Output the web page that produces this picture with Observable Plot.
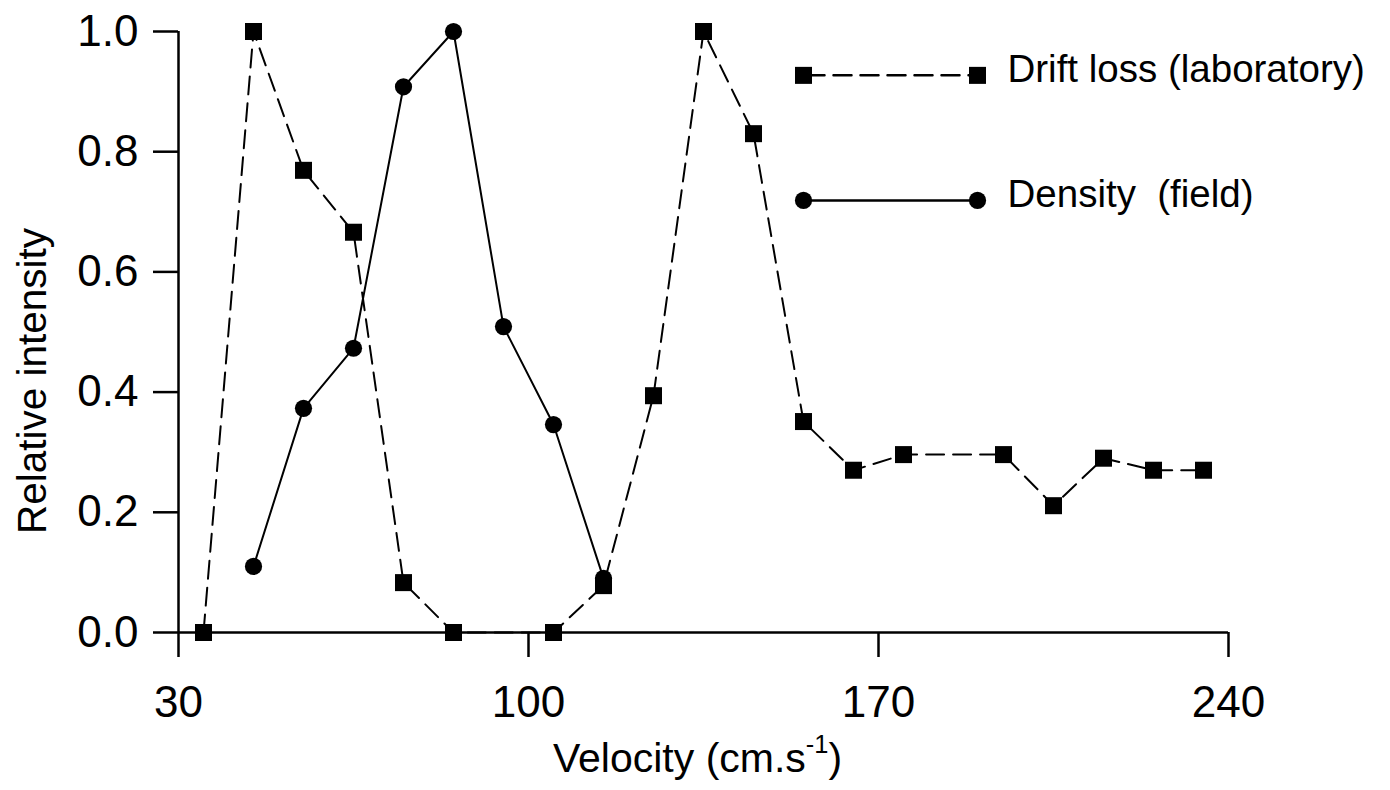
<!DOCTYPE html>
<html>
<head>
<meta charset="utf-8">
<script src="https://cdn.jsdelivr.net/npm/d3@7"></script>
<script src="https://cdn.jsdelivr.net/npm/@observablehq/plot@0.6"></script>
<style>
  body { margin: 0; background: #fff; }
  svg text { white-space: pre; }
</style>
</head>
<body>
<div id="chart"></div>
<script>
// ---- data ----
const driftVelocity   = [35, 45, 55, 65, 75, 85, 105, 115, 125, 135, 145, 155, 165, 175, 195, 205, 215, 225, 235];
const driftIntensity  = [0, 1.0, 0.769, 0.666, 0.083, 0, 0, 0.078, 0.394, 1.0, 0.830, 0.351, 0.270, 0.296, 0.296, 0.211, 0.290, 0.270, 0.270];
const densityVelocity  = [45, 55, 65, 75, 85, 95, 105, 115];
const densityIntensity = [0.110, 0.373, 0.473, 0.908, 1.0, 0.509, 0.346, 0.090];
const seriesNames = ["Drift loss (laboratory)", "Density  (field)"];
const xTicks = [30, 100, 170, 240];
const yTicks = [0, 0.2, 0.4, 0.6, 0.8, 1.0];
const xDomain = [30, 240];
const yDomain = [0, 1];
const xLabel = "Velocity (cm.s-1)";
const yLabel = "Relative intensity";
// legend sample placement (in data units)
const legendVelocity = [155, 189.8];
const legendIntensity = [0.927, 0.719];

// ---- build tables ----
const drift = driftVelocity.map((v, i) => ({v, y: driftIntensity[i]}));
const density = densityVelocity.map((v, i) => ({v, y: densityIntensity[i]}));
const legendDrift = legendVelocity.map(v => ({v, y: legendIntensity[0]}));
const legendDensity = legendVelocity.map(v => ({v, y: legendIntensity[1]}));
const legendLabels = seriesNames.map((name, k) => ({name, v: legendVelocity[1], y: legendIntensity[k]}));

const dash = "18,9";
const font = "'Liberation Sans', Arial, Helvetica, sans-serif";

const plot = Plot.plot({
  width: 1390,
  height: 790,
  marginLeft: 178,
  marginRight: 162,
  marginTop: 31,
  marginBottom: 158,
  style: {fontFamily: font, color: "#000", background: "#fff", overflow: "visible"},
  x: {domain: xDomain},
  y: {domain: yDomain},
  marks: [
    // axes frame
    Plot.ruleX([xDomain[0]], {y1: yDomain[0], y2: yDomain[1], stroke: "#000", strokeWidth: 2.5}),
    Plot.ruleY([yDomain[0]], {x1: xDomain[0], x2: xDomain[1], stroke: "#000", strokeWidth: 2.5}),
    Plot.axisX({ticks: xTicks, tickSize: 25, tickPadding: 28, fontSize: 44, label: null, strokeWidth: 2.5, tickFormat: d3.format("d")}),
    Plot.axisY({ticks: yTicks, tickSize: 25, tickPadding: 15, fontSize: 44, label: null, strokeWidth: 2.5, tickFormat: d3.format(".1f")}),
    // axis titles
    Plot.text([yLabel], {frameAnchor: "left", text: d => d, rotate: -90, dx: -145, dy: 49, fontSize: 40.5, textAnchor: "middle", lineAnchor: "middle", fill: "#000"}),
    Plot.text([xLabel], {frameAnchor: "bottom", text: d => d, dx: -6, dy: 126, fontSize: 41, textAnchor: "middle", lineAnchor: "middle", fill: "#000"}),
    // series
    Plot.line(drift, {x: "v", y: "y", stroke: "#000", strokeWidth: 2, strokeDasharray: dash}),
    Plot.dot(drift, {x: "v", y: "y", symbol: "square", r: 9.6, fill: "#000", stroke: "none"}),
    Plot.line(density, {x: "v", y: "y", stroke: "#000", strokeWidth: 2}),
    Plot.dot(density, {x: "v", y: "y", symbol: "circle", r: 8.6, fill: "#000", stroke: "none"}),
    // legend
    Plot.line(legendDrift, {x: "v", y: "y", stroke: "#000", strokeWidth: 2.5, strokeDasharray: dash, strokeDashoffset: -3}),
    Plot.dot(legendDrift, {x: "v", y: "y", symbol: "square", r: 9.6, fill: "#000", stroke: "none"}),
    Plot.line(legendDensity, {x: "v", y: "y", stroke: "#000", strokeWidth: 2.5}),
    Plot.dot(legendDensity, {x: "v", y: "y", symbol: "circle", r: 8.6, fill: "#000", stroke: "none"}),
    Plot.text(legendLabels, {x: "v", y: "y", text: "name", dx: 30, dy: -6, textAnchor: "start", lineAnchor: "middle", fontSize: 38.5, fill: "#000"})
  ]
});

// render superscript in x-axis title
d3.select(plot).selectAll("text").each(function () {
  if (this.textContent === xLabel) {
    const t = d3.select(this);
    t.text(null);
    t.append("tspan").text("Velocity (cm.s");
    t.append("tspan").attr("font-size", "0.62em").attr("dy", "-0.75em").text("-1");
    t.append("tspan").attr("dy", "0.465em").text(")");
  }
});

document.getElementById("chart").appendChild(plot);
</script>
</body>
</html>
